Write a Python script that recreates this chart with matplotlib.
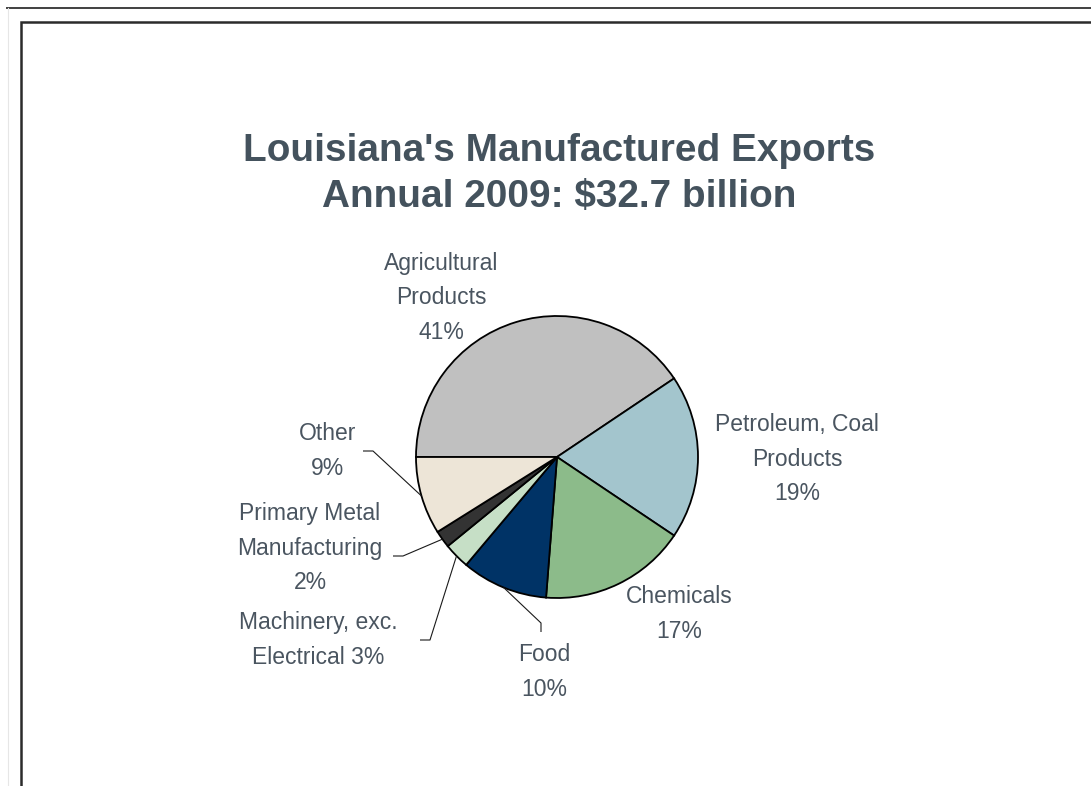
import matplotlib
matplotlib.use("Agg")
import matplotlib.pyplot as plt
from matplotlib.lines import Line2D
import numpy as np

# Export shares by sector, in drawing order (clockwise from 9 o'clock)
categories = ["Agricultural\nProducts", "Petroleum, Coal\nProducts", "Chemicals",
              "Food", "Machinery, exc.\nElectrical", "Primary Metal\nManufacturing", "Other"]
shares = [41, 19, 17, 10, 3, 2, 9]
colors = ["#C0C0C0", "#A3C5CD", "#8CBB8A", "#003366", "#C6DFC6", "#333333", "#EDE5D7"]

title = "Louisiana's Manufactured Exports\nAnnual 2009: $32.7 billion"

W, H = 1091, 786
fig = plt.figure(figsize=(W / 100, H / 100), dpi=100)
fig.patch.set_facecolor("white")

# page frame lines
fig.add_artist(Line2D([7 / W, 1], [1 - 8 / H, 1 - 8 / H], color="#404040", lw=1.4,
                      transform=fig.transFigure))
fig.add_artist(Line2D([7.5 / W, 7.5 / W], [0, 1 - 8 / H], color="#E6E6E6", lw=0.8,
                      transform=fig.transFigure))
# chart area border
fig.add_artist(Line2D([21 / W, 21 / W, 1], [0, 1 - 22 / H, 1 - 22 / H], color="#2B2B2B",
                      lw=1.8, transform=fig.transFigure, solid_joinstyle="miter"))

# pie axes: centre (557, 457) px, radius 141 px
cx, cy, r = 557, 457, 141
ax = fig.add_axes([(cx - r) / W, (H - cy - r) / H, 2 * r / W, 2 * r / H])
wedges, _ = ax.pie(shares, colors=colors, startangle=180, counterclock=False,
                   wedgeprops=dict(edgecolor="black", linewidth=1.3))
ax.set_xlim(-1, 1)
ax.set_ylim(-1, 1)
ax.set_aspect("equal")
ax.axis("off")


def d(px, py):
    """figure pixel (from top-left) -> pie data coordinates"""
    return (px - cx) / r, (cy - py) / r


label_color = "#4A5560"
label_pos = [(441, 298), (797, 459), (679, 614), (544, 672), (318, 640), (310, 548), (328, 451)]
for name, val, (px, py) in zip(categories, shares, label_pos):
    if name.startswith("Machinery"):
        txt = f"{name} {val}%"
    else:
        txt = f"{name}\n{val}%"
    x, y = d(px, py)
    ax.text(x, y, txt, ha="center", va="center", fontsize=16.5, color=label_color,
            family="Liberation Sans", linespacing=1.65, clip_on=False)


def edge_point(w):
    mid = np.deg2rad((w.theta1 + w.theta2) / 2)
    return np.cos(mid), np.sin(mid)


# leader lines for the small slices: elbow points in pixels, ending at slice edge
leaders = {
    6: [(363, 451), (373, 451)],
    5: [(393, 556), (403, 556)],
    4: [(420, 640), (430, 640)],
    3: [(541, 632), (541, 623)],
}
for idx, pts in leaders.items():
    xs = [d(*p)[0] for p in pts]
    ys = [d(*p)[1] for p in pts]
    ex, ey = edge_point(wedges[idx])
    xs.append(ex)
    ys.append(ey)
    ax.plot(xs, ys, color="#1A1A1A", lw=0.8, clip_on=False, solid_capstyle="butt")

fig.text(559 / W, 1 - 174 / H, title, ha="center", va="center", fontsize=27.9,
         fontweight="bold", color="#44525D", family="Liberation Sans", linespacing=1.39)

fig.savefig("out.png", dpi=100, facecolor="white")
